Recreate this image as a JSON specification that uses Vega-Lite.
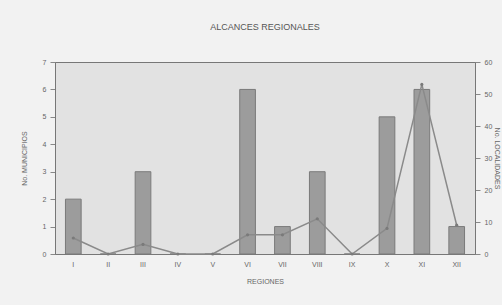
{
  "$schema": "https://vega.github.io/schema/vega-lite/v6.json",
  "autosize": {"type": "none"},
  "width": 420,
  "height": 192,
  "padding": {"left": 55, "top": 62, "right": 27, "bottom": 51},
  "background": "#f2f2f2",
  "title": {"text": "ALCANCES REGIONALES", "fontSize": 9, "font": "Liberation Sans", "fontWeight": "normal", "color": "#555555", "anchor": "middle", "offset": 26},
  "config": {
    "view": {"fill": "#e2e2e2", "stroke": "#777777", "strokeWidth": 1},
    "axis": {"labelFont": "Liberation Sans", "titleFont": "Liberation Sans", "labelFontSize": 7, "titleFontSize": 7, "labelColor": "#666666", "titleColor": "#666666", "titleFontWeight": "normal", "domainColor": "#777777", "tickColor": "#888888", "grid": false}
  },
  "data": {"values": [
    {"region": "I", "municipios": 2, "localidades": 5},
    {"region": "II", "municipios": 0, "localidades": 0},
    {"region": "III", "municipios": 3, "localidades": 3},
    {"region": "IV", "municipios": 0, "localidades": 0},
    {"region": "V", "municipios": 0, "localidades": 0},
    {"region": "VI", "municipios": 6, "localidades": 6},
    {"region": "VII", "municipios": 1, "localidades": 6},
    {"region": "VIII", "municipios": 3, "localidades": 11},
    {"region": "IX", "municipios": 0, "localidades": 0},
    {"region": "X", "municipios": 5, "localidades": 8},
    {"region": "XI", "municipios": 6, "localidades": 53},
    {"region": "XII", "municipios": 1, "localidades": 9}
  ]},
  "encoding": {
    "x": {"field": "region", "type": "ordinal", "sort": null, "title": "REGIONES",
      "scale": {"paddingInner": 0.55, "paddingOuter": 0.3},
      "axis": {"labelAngle": 0, "labelPadding": 6, "titlePadding": 10, "ticks": false}}
  },
  "layer": [
    {
      "mark": {"type": "bar", "fill": "#9c9c9c", "stroke": "#7a7a7a", "strokeWidth": 1},
      "encoding": {
        "y": {"field": "municipios", "type": "quantitative", "title": "No. MUNICIPIOS",
          "scale": {"domain": [0, 7]}, "axis": {"tickCount": 7, "titlePadding": 15, "labelPadding": 4}}
      }
    },
    {
      "mark": {"type": "line", "color": "#8a8a8a", "strokeWidth": 1.5, "point": {"filled": true, "size": 10, "color": "#7a7a7a"}},
      "encoding": {
        "y": {"field": "localidades", "type": "quantitative", "title": "No. LOCALIDADES",
          "scale": {"domain": [0, 60]}, "axis": {"orient": "right", "tickCount": 6, "titlePadding": 2, "labelPadding": 4}}
      }
    }
  ],
  "resolve": {"scale": {"y": "independent"}}
}
